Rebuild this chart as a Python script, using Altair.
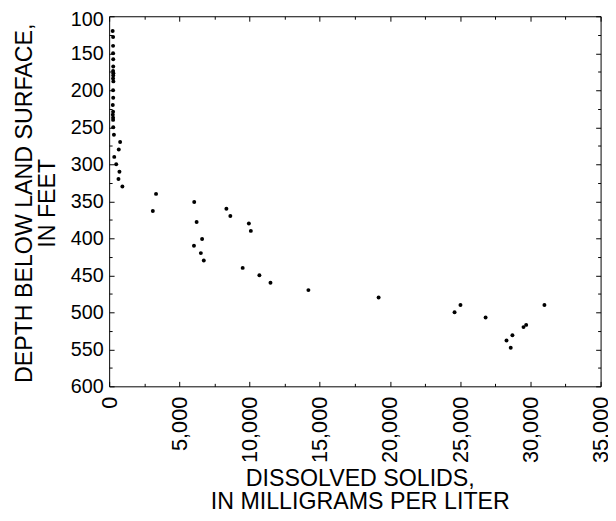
import altair as alt
import pandas as pd

# Dissolved solids (mg/L) and depth below land surface (ft)
solids = [250, 280, 280, 280, 290, 290, 280, 300, 290, 280, 300, 280, 290, 260, 280, 260, 280, 280, 290, 340,
          782, 685, 363, 503, 733, 664, 943,
          3340, 3110, 6060, 6230, 6620, 6040, 6530, 6740, 8350, 8630, 9950, 10090, 9510, 10700, 11490,
          14190, 19190, 24600, 25020, 26810, 28300, 28600, 28720, 29510, 29700, 31000]
depth = [120, 128, 140, 150, 158, 168, 174, 177, 180, 184, 188, 200, 210, 220, 229, 233, 237, 240, 250, 260,
         270, 280, 290, 300, 310, 320, 330,
         340, 363, 351, 378, 401, 410, 420, 430, 360, 370, 380, 390, 440, 450, 460,
         470, 480, 500, 490, 507, 538, 548, 531, 520, 517, 490]

x_major = [0, 5000, 10000, 15000, 20000, 25000, 30000, 35000]
x_minor = [2500, 7500, 12500, 17500, 22500, 27500, 32500]
y_major = [100, 150, 200, 250, 300, 350, 400, 450, 500, 550, 600]
y_minor = [125, 175, 225, 275, 325, 375, 425, 475, 525, 575]

x_title = ["DISSOLVED SOLIDS,", "IN MILLIGRAMS PER LITER"]
y_title = ["DEPTH BELOW LAND SURFACE,", "IN FEET"]

df = pd.DataFrame({"solids": solids, "depth": depth})

W, H = 498, 375
FONT = "Liberation Sans"

xs = alt.Scale(domain=[0, 35000], nice=False, zero=False)
ys = alt.Scale(domain=[100, 600], nice=False, zero=False, reverse=True)

base = alt.Chart(df)

points = base.mark_circle(size=16, color="black", opacity=1).encode(
    x=alt.X("solids:Q", scale=xs, axis=alt.Axis(
        orient="bottom", values=x_major, format=",d", labelAngle=270, labelPadding=10,
        ticks=False, tickSize=0, domain=False, grid=False, labelFontSize=22, labelFont=FONT,
        labelColor="black", labelFlush=False, labelOverlap=False,
        title=x_title, titleFont=FONT, titleFontSize=23.5, titleFontWeight="normal",
        titleColor="black", titleLineHeight=24, titleBaseline="alphabetic",
        titleAlign="center", titleX=254, titleY=100)),
    y=alt.Y("depth:Q", scale=ys, axis=alt.Axis(
        orient="left", values=y_major, labelPadding=6, ticks=False, tickSize=0,
        domain=False, grid=False, labelFontSize=20, labelFont=FONT, labelColor="black",
        labelFlush=False, labelOverlap=False,
        labelOffset={"condition": {"test": "datum.value == 100", "value": 3}, "value": 0},
        title=y_title, titleFont=FONT, titleFontSize=23.5, titleFontWeight="normal",
        titleColor="black", titleLineHeight=23, titleBaseline="alphabetic",
        titleAlign="center", titleAngle=270, titleX=-78.5, titleY=189)),
)


def tick_layer(xorient, yorient, xvals, yvals, size):
    return base.mark_circle(opacity=0).encode(
        x=alt.X("solids:Q", scale=xs, axis=alt.Axis(
            orient=xorient, offset=-H, values=xvals, labels=False, ticks=True,
            tickSize=size, tickColor="black", tickWidth=1, domain=False, grid=False,
            title="")),
        y=alt.Y("depth:Q", scale=ys, axis=alt.Axis(
            orient=yorient, offset=-W, values=yvals, labels=False, ticks=True,
            tickSize=size, tickColor="black", tickWidth=1, domain=False, grid=False,
            title="")),
    )


chart = alt.layer(
    points,
    tick_layer("top", "right", x_major, y_major, 5),
    tick_layer("bottom", "left", x_major, y_major, 5),
    tick_layer("top", "right", x_minor, y_minor, 3),
    tick_layer("bottom", "left", x_minor, y_minor, 3),
).resolve_axis(x="independent", y="independent").properties(
    width=W, height=H,
    autosize=alt.AutoSizeParams(type="none"),
    padding={"left": 102.5, "top": 5, "right": 7.5, "bottom": 125},
).configure_view(stroke="black", strokeWidth=1)

chart.save("out.html", embed_options={"renderer": "svg", "actions": False})
